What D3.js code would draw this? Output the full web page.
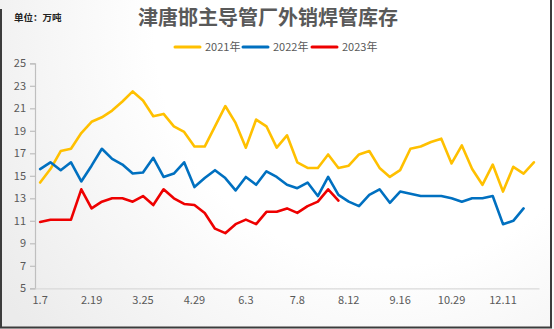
<!DOCTYPE html>
<html>
<head>
<meta charset="utf-8">
<script src="https://cdn.jsdelivr.net/npm/d3@7"></script>
<style>
  html, body { margin: 0; padding: 0; background: #fff; }
  svg { display: block; }
  text { font-family: "Noto Sans CJK SC", "Noto Sans", sans-serif; }
</style>
</head>
<body>
<svg id="chart" width="554" height="329"></svg>
<script>
// Weekly reporting dates (only every 5th one is labelled on the axis)
const categories = [
  "1.7","1.14","1.21","2.4","2.11","2.19","2.26","3.4","3.11","3.18",
  "3.25","4.1","4.8","4.15","4.22","4.29","5.6","5.13","5.20","5.27",
  "6.3","6.10","6.17","6.24","7.1","7.8","7.15","7.22","7.29","8.5",
  "8.12","8.19","8.26","9.2","9.9","9.16","9.23","10.8","10.15","10.22",
  "10.29","11.5","11.12","11.19","11.26","12.11","12.18","12.25","12.31"
];

// Inventory, 10k tonnes
const values2021 = [
  14.4,15.6,17.2,17.4,18.8,19.8,20.2,20.8,21.6,22.5,
  21.7,20.3,20.5,19.4,18.9,17.6,17.6,19.4,21.2,19.7,
  17.5,20.0,19.4,17.5,18.6,16.2,15.7,15.7,16.9,15.7,
  15.9,16.9,17.2,15.7,14.9,15.5,17.4,17.6,18.0,18.3,
  16.1,17.7,15.6,14.2,16.0,13.6,15.8,15.2,16.2
];
const values2022 = [
  15.6,16.2,15.5,16.2,14.5,15.9,17.4,16.5,16.0,15.2,
  15.3,16.6,14.9,15.2,16.2,14.0,14.8,15.5,14.8,13.7,
  14.9,14.2,15.4,14.9,14.2,13.9,14.4,13.2,14.9,13.3,
  12.7,12.3,13.3,13.8,12.6,13.6,13.4,13.2,13.2,13.2,
  13.0,12.7,13.0,13.0,13.2,10.7,11.0,12.1
];
const values2023 = [
  10.9,11.1,11.1,11.1,13.8,12.1,12.7,13.0,13.0,12.7,
  13.2,12.4,13.8,13.0,12.5,12.4,11.7,10.3,9.9,10.7,
  11.1,10.7,11.8,11.8,12.1,11.7,12.3,12.7,13.8,12.8
];
const seriesNames = ["2021年", "2022年", "2023年"];
const yTicks = [5, 7, 9, 11, 13, 15, 17, 19, 21, 23, 25];

const title = "津唐邯主导管厂外销焊管库存";
const unitLabel = "单位：万吨";

const series = [
  { name: seriesNames[0], values: values2021, color: "#FFC000" },
  { name: seriesNames[1], values: values2022, color: "#0070C0" },
  { name: seriesNames[2], values: values2023, color: "#EE0000" }
];

const svg = d3.select("#chart");
const W = 554, H = 329;
const plot = { left: 35, right: 539, top: 63.3, bottom: 288.3 };

// soft radial background
const defs = svg.append("defs");
const grad = defs.append("radialGradient")
  .attr("id", "bg").attr("gradientUnits", "userSpaceOnUse")
  .attr("cx", 390).attr("cy", 30).attr("r", 470);
grad.append("stop").attr("offset", 0).attr("stop-color", "#ffffff");
grad.append("stop").attr("offset", 0.5).attr("stop-color", "#ffffff");
grad.append("stop").attr("offset", 1).attr("stop-color", "#ebebeb");
svg.append("rect").attr("x", 0).attr("y", 0).attr("width", W).attr("height", H)
  .attr("fill", "url(#bg)");

// frame
const frame = svg.append("g").attr("stroke", "#3c3c3c").attr("stroke-width", 2).attr("fill", "none");
frame.append("line").attr("x1", 1).attr("x2", 1).attr("y1", 9).attr("y2", 328);
frame.append("line").attr("x1", 551).attr("x2", 551).attr("y1", 0).attr("y2", 328);
frame.append("line").attr("x1", 0).attr("x2", 552).attr("y1", 327.5).attr("y2", 327.5);

// scales
const x = d3.scaleBand().domain(categories).range([plot.left, plot.right]).paddingInner(0).paddingOuter(0);
const cx = d => x(d) + x.bandwidth() / 2;
const y = d3.scaleLinear().domain([5, 25]).range([plot.bottom, plot.top]);

// y axis
const yAxis = svg.append("g")
  .attr("transform", `translate(${plot.left},0)`)
  .call(d3.axisLeft(y).tickValues(yTicks).tickSize(5).tickPadding(4).tickFormat(d3.format("d")));
yAxis.select(".domain").attr("stroke", "#bfbfbf").attr("stroke-width", 1.2);
yAxis.selectAll(".tick line").attr("stroke", "#bfbfbf").attr("stroke-width", 1.2);
yAxis.selectAll(".tick text").attr("fill", "#595959").attr("font-size", 11);

// x axis
const xAxis = svg.append("g")
  .attr("transform", `translate(0,${plot.bottom})`)
  .call(d3.axisBottom(x)
    .tickValues(categories.filter((d, i) => i % 5 === 0))
    .tickSize(0).tickPadding(8));
xAxis.select(".domain").attr("stroke", "#d9d9d9").attr("stroke-width", 1.2);
xAxis.selectAll(".tick text").attr("fill", "#595959").attr("font-size", 11);

// lines
const line = d3.line()
  .x((d, i) => cx(categories[i]))
  .y(d => y(d));
svg.append("g").selectAll("path")
  .data(series)
  .join("path")
  .attr("d", s => line(s.values))
  .attr("fill", "none")
  .attr("stroke", s => s.color)
  .attr("stroke-width", 2.6)
  .attr("stroke-linejoin", "round")
  .attr("stroke-linecap", "round");

// title and unit
svg.append("text").attr("x", 268).attr("y", 25)
  .attr("text-anchor", "middle")
  .attr("font-size", 20).attr("font-weight", "bold")
  .attr("fill", "#595959")
  .text(title);
svg.append("text").attr("x", 14).attr("y", 21)
  .attr("font-size", 9.5).attr("font-weight", "bold")
  .attr("fill", "#222")
  .text(unitLabel);

// legend
const legendX = [175, 243, 312];
const lg = svg.append("g").selectAll("g").data(series).join("g")
  .attr("transform", (d, i) => `translate(${legendX[i]},47)`);
lg.append("line").attr("x1", 0).attr("x2", 25).attr("y1", 0).attr("y2", 0)
  .attr("stroke", d => d.color).attr("stroke-width", 3).attr("stroke-linecap", "round");
lg.append("text").attr("x", 30).attr("y", 4)
  .attr("font-size", 11).attr("fill", "#595959")
  .text(d => d.name);
</script>
</body>
</html>
